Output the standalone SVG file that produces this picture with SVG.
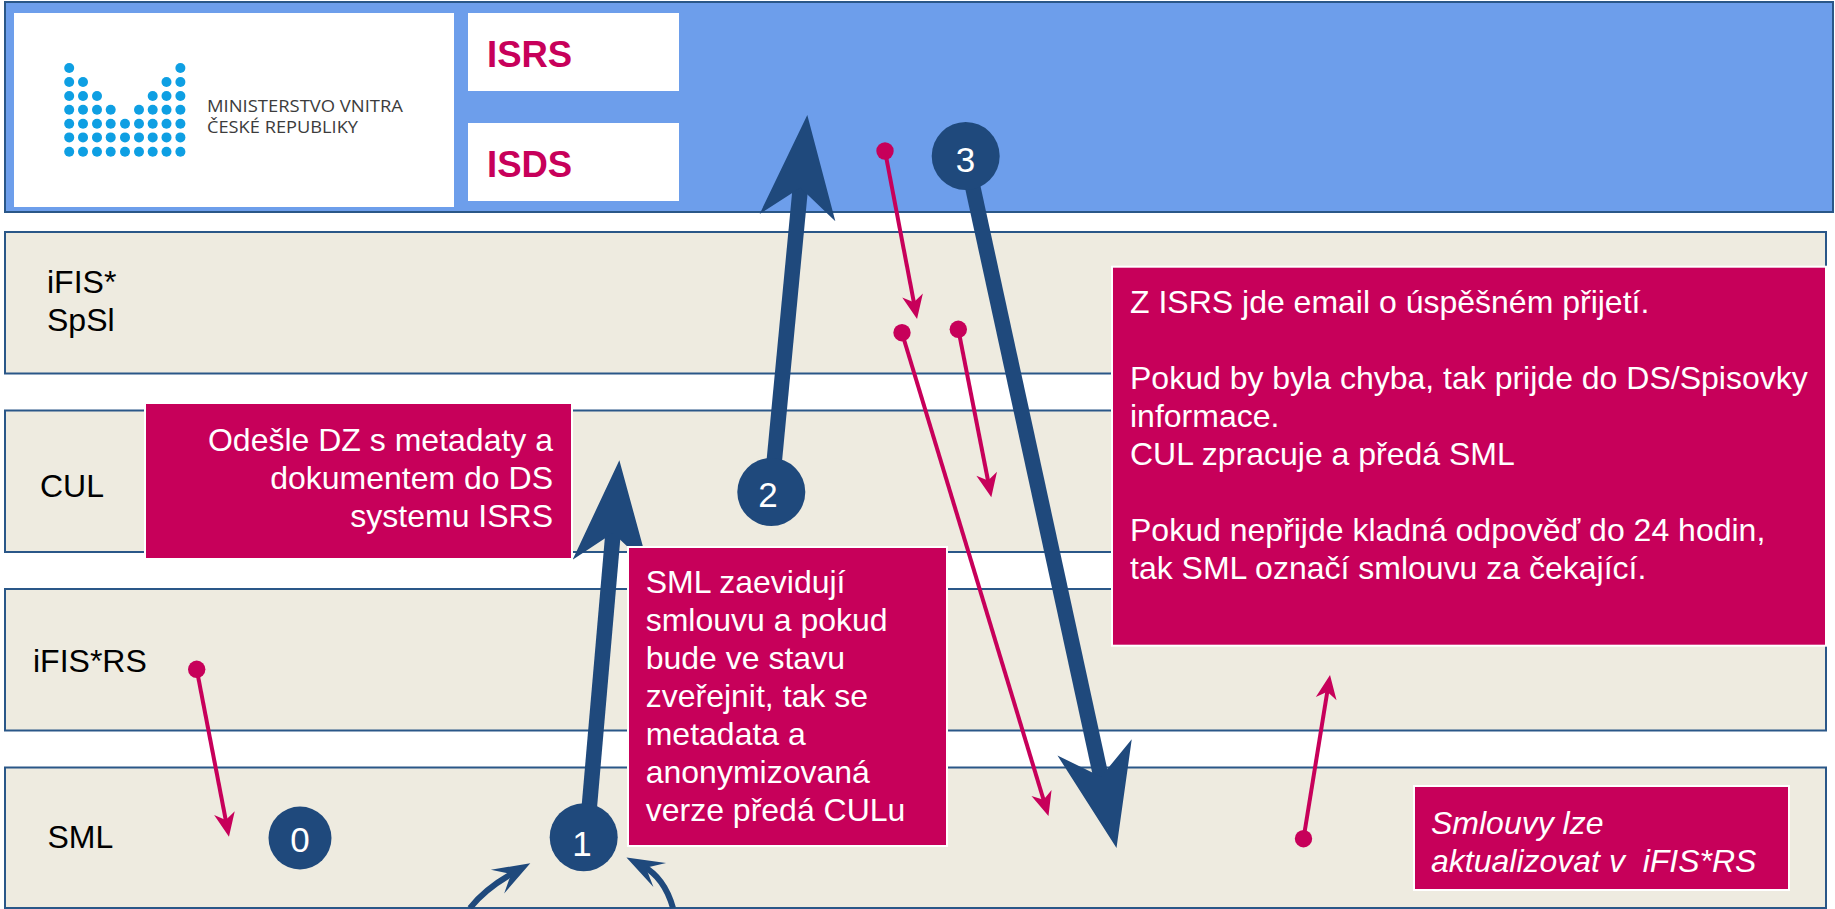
<svg xmlns="http://www.w3.org/2000/svg" width="1835" height="909" viewBox="0 0 1835 909">
<style>
text{font-family:"Liberation Sans",Arial,sans-serif;font-size:32px}
.band{fill:#eeebe0;stroke:#2a5788;stroke-width:2}
.top{fill:#6d9eeb;stroke:#2a5788;stroke-width:2}
.lbl{fill:#000}
.box{fill:#c7005a;stroke:#fff;stroke-width:2}
.bt{fill:#fff}
.it{font-style:italic;white-space:pre}
.white{fill:#fff}
.head{fill:#c7005a;font-weight:bold;font-size:36.500px}
.d{fill:#0e9fe3}
.logo{fill:#3c3c3c;font-family:"Open Sans","Liberation Sans",sans-serif;font-size:16.500px}
.m{fill:none;stroke:#c7005a;stroke-width:4;marker-end:url(#mh)}
.dot{fill:#c7005a}
.b{fill:none;stroke:#1f497c;stroke-width:15.500;marker-end:url(#bh)}
.c{fill:none;stroke:#1f497c;stroke-width:6;marker-end:url(#ch)}
.n{fill:#1f497c}
.nt{fill:#fff;font-size:35px;text-anchor:middle}
</style>
<defs>
<marker id="mh" markerUnits="userSpaceOnUse" markerWidth="40" markerHeight="30" refX="24" refY="15" orient="auto" overflow="visible"><path d="M36,15L12,4.500L19,15L12,25.500Z" fill="#c7005a"/></marker>
<marker id="bh" markerUnits="userSpaceOnUse" markerWidth="110" markerHeight="80" refX="63" refY="40" orient="auto" overflow="visible"><path d="M103,40L0,2L30,40L0,78Z" fill="#1f497c"/></marker>
<marker id="ch" markerUnits="userSpaceOnUse" markerWidth="40" markerHeight="30" refX="19.600" refY="15" orient="auto" overflow="visible"><path d="M37.600,15L0,1.400L15.600,15L0,28.600Z" fill="#1f497c"/></marker>
</defs>
<g id="lane-isds"><rect class="top" x="5" y="2" width="1828" height="210"/></g>
<g id="lane-spsl"><rect class="band" x="5" y="232" width="1821" height="141.500"/><text class="lbl" x="47" y="292.500">iFIS*</text><text class="lbl" x="47" y="330.500">SpSl</text></g>
<g id="lane-cul"><rect class="band" x="5" y="410.500" width="1821" height="141.500"/><text class="lbl" x="40" y="496.500">CUL</text></g>
<g id="lane-rs"><rect class="band" x="5" y="589" width="1821" height="141.500"/><text class="lbl" x="33" y="671.500">iFIS*RS</text></g>
<g id="lane-sml"><rect class="band" x="5" y="767.500" width="1821" height="140.500"/><text class="lbl" x="47.500" y="847.500">SML</text></g>
<g id="logo">
<rect class="white" x="14" y="13" width="440" height="194"/>
<g class="d">
<circle cx="69.200" cy="68" r="5"/><circle cx="180.400" cy="68" r="5"/>
<circle cx="69.200" cy="82" r="5"/><circle cx="83" cy="82" r="5"/><circle cx="166.500" cy="82" r="5"/><circle cx="180.400" cy="82" r="5"/>
<circle cx="69.200" cy="96" r="5"/><circle cx="83" cy="96" r="5"/><circle cx="97" cy="96" r="5"/><circle cx="152.700" cy="96" r="5"/><circle cx="166.500" cy="96" r="5"/><circle cx="180.400" cy="96" r="5"/>
<circle cx="69.200" cy="109.700" r="5"/><circle cx="83" cy="109.700" r="5"/><circle cx="97" cy="109.700" r="5"/><circle cx="110.700" cy="109.700" r="5"/><circle cx="139" cy="109.700" r="5"/><circle cx="152.700" cy="109.700" r="5"/><circle cx="166.500" cy="109.700" r="5"/><circle cx="180.400" cy="109.700" r="5"/>
<circle cx="69.200" cy="123.700" r="5"/><circle cx="83" cy="123.700" r="5"/><circle cx="97" cy="123.700" r="5"/><circle cx="110.700" cy="123.700" r="5"/><circle cx="125" cy="123.700" r="5"/><circle cx="139" cy="123.700" r="5"/><circle cx="152.700" cy="123.700" r="5"/><circle cx="166.500" cy="123.700" r="5"/><circle cx="180.400" cy="123.700" r="5"/>
<circle cx="69.200" cy="137.400" r="5"/><circle cx="83" cy="137.400" r="5"/><circle cx="97" cy="137.400" r="5"/><circle cx="110.700" cy="137.400" r="5"/><circle cx="125" cy="137.400" r="5"/><circle cx="139" cy="137.400" r="5"/><circle cx="152.700" cy="137.400" r="5"/><circle cx="166.500" cy="137.400" r="5"/><circle cx="180.400" cy="137.400" r="5"/>
<circle cx="69.200" cy="151.700" r="5"/><circle cx="83" cy="151.700" r="5"/><circle cx="97" cy="151.700" r="5"/><circle cx="110.700" cy="151.700" r="5"/><circle cx="125" cy="151.700" r="5"/><circle cx="139" cy="151.700" r="5"/><circle cx="152.700" cy="151.700" r="5"/><circle cx="166.500" cy="151.700" r="5"/><circle cx="180.400" cy="151.700" r="5"/>
</g>
<text class="logo" x="207" y="112" textLength="196" lengthAdjust="spacingAndGlyphs">MINISTERSTVO VNITRA</text>
<text class="logo" x="207" y="133" textLength="151" lengthAdjust="spacingAndGlyphs">ČESKÉ REPUBLIKY</text>
</g>
<g id="isrs"><rect class="white" x="468" y="13" width="211" height="78"/><text class="head" x="487" y="67">ISRS</text></g>
<g id="isds"><rect class="white" x="468" y="123" width="211" height="78"/><text class="head" x="487" y="177">ISDS</text></g>
<g id="connectors">
<path class="m" d="M885,151L914.800,307.200"/>
<path class="m" d="M958.300,329.300L989,485.500"/>
<path class="m" d="M902,333L1045,804.500"/>
<path class="m" d="M196.700,669.300L226.700,824.900"/>
<path class="m" d="M1303.500,838.700L1328.100,686.800"/>
<path class="b" d="M586.700,837L615.900,500.200"/>
<path class="b" d="M771.300,492L803.500,154.800"/>
<path class="b" d="M966,156L1108,809"/>
<path class="c" d="M470,908C480,895 495,883 514.600,872"/>
<path class="c" d="M673,908C668,890 658,874 642.400,865.800"/>
</g>
<g id="dots">
<circle class="dot" cx="885" cy="151" r="8.700"/>
<circle class="dot" cx="958.300" cy="329.300" r="8.700"/>
<circle class="dot" cx="902" cy="332.700" r="8.700"/>
<circle class="dot" cx="196.700" cy="669.300" r="8.700"/>
<circle class="dot" cx="1303.500" cy="838.700" r="8.700"/>
</g>
<g id="step-0"><circle class="n" cx="300" cy="838" r="31.500"/><text class="nt" x="300" y="851.500">0</text></g>
<g id="step-1"><circle class="n" cx="583.700" cy="837.300" r="34"/><text class="nt" x="582" y="855.700">1</text></g>
<g id="step-2"><circle class="n" cx="771.300" cy="492" r="34"/><text class="nt" x="768" y="506.700">2</text></g>
<g id="step-3"><circle class="n" cx="965.700" cy="156" r="34"/><text class="nt" x="965.500" y="172.300">3</text></g>
<g id="note-cul"><rect class="box" x="145" y="403" width="427" height="156"/>
<text class="bt" x="553" y="450.700" text-anchor="end">Odešle DZ s metadaty a</text>
<text class="bt" x="553" y="488.700" text-anchor="end">dokumentem do DS</text>
<text class="bt" x="553" y="526.700" text-anchor="end">systemu ISRS</text></g>
<g id="note-sml"><rect class="box" x="628" y="547" width="319" height="299"/>
<text class="bt" x="645.700" y="593.300">SML zaevidují</text>
<text class="bt" x="645.700" y="631.300">smlouvu a pokud</text>
<text class="bt" x="645.700" y="669.300">bude ve stavu</text>
<text class="bt" x="645.700" y="707.300">zveřejnit, tak se</text>
<text class="bt" x="645.700" y="745.300">metadata a</text>
<text class="bt" x="645.700" y="783.300">anonymizovaná</text>
<text class="bt" x="645.700" y="821.300">verze předá CULu</text></g>
<g id="note-isrs"><rect class="box" x="1112" y="266.700" width="714" height="379"/>
<text class="bt" x="1130" y="313.300">Z ISRS jde email o úspěšném přijetí.</text>
<text class="bt" x="1130" y="389.300">Pokud by byla chyba, tak prijde do DS/Spisovky</text>
<text class="bt" x="1130" y="427.300">informace.</text>
<text class="bt" x="1130" y="465.300">CUL zpracuje a předá SML</text>
<text class="bt" x="1130" y="541.300">Pokud nepřijde kladná odpověď do 24 hodin,</text>
<text class="bt" x="1130" y="579.300">tak SML označí smlouvu za čekající.</text></g>
<g id="note-update"><rect class="box" x="1414" y="786" width="375" height="104"/>
<text class="bt it" x="1431" y="834">Smlouvy lze</text>
<text class="bt it" x="1431" y="871.700">aktualizovat v  iFIS*RS</text></g>
</svg>
